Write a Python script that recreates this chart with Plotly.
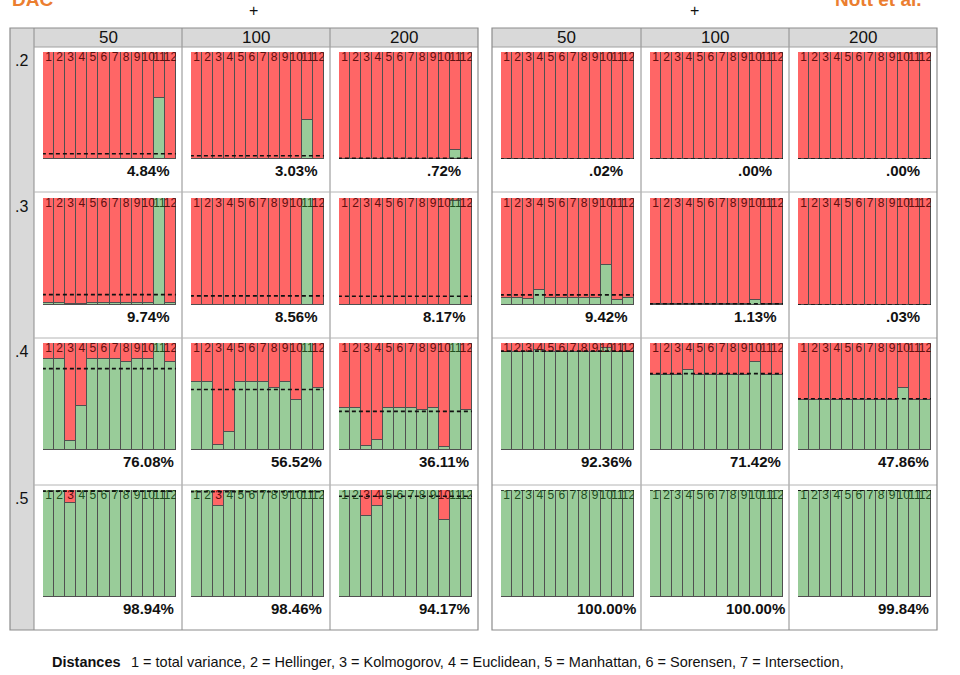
import plotly.graph_objects as go

# ---------------- data ----------------
distances = [1, 2, 3, 4, 5, 6, 7, 8, 9, 10, 11, 12]
distance_labels = ["1", "2", "3", "4", "5", "6", "7", "8", "9", "10", "11", "12"]
row_labels = [".2", ".3", ".4", ".5"]
col_labels = ["50", "100", "200"]

# DAC: % accepted (green) per distance, row = threshold, col = sample size
dac_r2_n50 = [0, 0, 0, 0, 0, 0, 0, 0, 0, 0, 57, 0]
dac_r2_n100 = [0, 0, 0, 0, 0, 0, 0, 0, 0, 0, 36, 0]
dac_r2_n200 = [0, 0, 0, 0, 0, 0, 0, 0, 0, 0, 8.5, 0]
dac_r3_n50 = [2, 2, 0.5, 0.5, 1.5, 1.5, 1.5, 1.5, 2, 2, 100, 1.5]
dac_r3_n100 = [0.3, 0.3, 0.3, 0.3, 0.3, 0.3, 0.3, 0.3, 0.3, 0.3, 100, 0.3]
dac_r3_n200 = [0.05, 0.05, 0.05, 0.05, 0.05, 0.05, 0.05, 0.05, 0.05, 0.05, 97.5, 0.05]
dac_r4_n50 = [85, 85, 8, 41, 85, 85, 85, 82, 85, 85, 100, 82]
dac_r4_n100 = [64, 64, 5, 17, 64, 64, 64, 58, 64, 47, 100, 58]
dac_r4_n200 = [39, 39, 4, 9, 39, 39, 39, 37, 39, 3, 100, 37]
dac_r5_n50 = [100, 100, 88, 100, 100, 100, 100, 100, 100, 100, 100, 100]
dac_r5_n100 = [100, 100, 85, 99, 100, 100, 100, 100, 100, 100, 100, 100]
dac_r5_n200 = [100, 100, 76, 85, 100, 100, 100, 100, 100, 72, 100, 100]

# Nott et al.
nott_r2_n50 = [0.02, 0.02, 0.02, 0.02, 0.02, 0.02, 0.02, 0.02, 0.02, 0.02, 0.02, 0.02]
nott_r2_n100 = [0, 0, 0, 0, 0, 0, 0, 0, 0, 0, 0, 0]
nott_r2_n200 = [0, 0, 0, 0, 0, 0, 0, 0, 0, 0, 0, 0]
nott_r3_n50 = [6.2, 6.2, 5.5, 14, 6.2, 6.2, 6.2, 6.2, 6.2, 37, 4.5, 7]
nott_r3_n100 = [0.8, 0.8, 0.8, 0.8, 0.8, 0.8, 0.8, 0.8, 0.8, 4.7, 0.8, 0.8]
nott_r3_n200 = [0.03, 0.03, 0.03, 0.03, 0.03, 0.03, 0.03, 0.03, 0.03, 0.03, 0.03, 0.03]
nott_r4_n50 = [92, 92, 92, 93, 92, 92, 92, 92, 92, 95, 92, 92]
nott_r4_n100 = [70, 70, 70, 75, 70, 70, 70, 70, 70, 82, 70, 70]
nott_r4_n200 = [47, 47, 47, 47, 47, 47, 47, 47, 47, 58, 47, 47]
nott_r5_n50 = [100, 100, 100, 100, 100, 100, 100, 100, 100, 100, 100, 100]
nott_r5_n100 = [100, 100, 100, 100, 100, 100, 100, 100, 100, 100, 100, 100]
nott_r5_n200 = [99.84, 99.84, 99.84, 99.84, 99.84, 99.84, 99.84, 99.84, 99.84, 99.84, 99.84, 99.84]

dac_pct = [[4.84, 3.03, 0.72], [9.74, 8.56, 8.17], [76.08, 56.52, 36.11], [98.94, 98.46, 94.17]]
nott_pct = [[0.02, 0.00, 0.00], [9.42, 1.13, 0.03], [92.36, 71.42, 47.86], [100.00, 100.00, 99.84]]

dac_green = [[dac_r2_n50, dac_r2_n100, dac_r2_n200],
             [dac_r3_n50, dac_r3_n100, dac_r3_n200],
             [dac_r4_n50, dac_r4_n100, dac_r4_n200],
             [dac_r5_n50, dac_r5_n100, dac_r5_n200]]
nott_green = [[nott_r2_n50, nott_r2_n100, nott_r2_n200],
              [nott_r3_n50, nott_r3_n100, nott_r3_n200],
              [nott_r4_n50, nott_r4_n100, nott_r4_n200],
              [nott_r5_n50, nott_r5_n100, nott_r5_n200]]

legend_text = ("1 = total variance, 2 = Hellinger, 3 = Kolmogorov, 4 = Euclidean, "
               "5 = Manhattan, 6 = Sorensen, 7 = Intersection,")

# ---------------- layout geometry (pixels) ----------------
W, H = 960, 675
FONT = "Liberation Sans Narrow, Arial Narrow, Liberation Sans, Arial, sans-serif"
RED = "#FF6666"
GREEN = "#99CC99"
OUTLINE = "#505050"
FRAME = "#8c8c8c"
HEADER = "#D9D9D9"
ORANGE = "#EB7E30"


def px(x):
    return x / W


def py(y):
    return 1 - y / H


block_cols = [[34, 182, 330], [492, 641, 789]]
block_edges = [(10, 478), (492, 937)]
row_tops = [52, 198, 343, 490]
row_seps = [192, 338, 485]
BAR_H = 107
BAR_W = 133
TOP, HDR_BOT, BOT = 28, 47, 630

fig = go.Figure()
layout = {}
shapes = []
annotations = []

blocks = [(dac_green, dac_pct), (nott_green, nott_pct)]
k = 0
for bi, (green, pct) in enumerate(blocks):
    for r in range(4):
        for c in range(3):
            k += 1
            xa = "x" if k == 1 else f"x{k}"
            ya = "y" if k == 1 else f"y{k}"
            left = block_cols[bi][c] + 9
            top = row_tops[r]
            layout["xaxis" if k == 1 else f"xaxis{k}"] = dict(
                domain=[px(left), px(left + BAR_W)], range=[0.5, 12.5],
                visible=False, fixedrange=True, anchor=ya)
            layout["yaxis" if k == 1 else f"yaxis{k}"] = dict(
                domain=[py(top + BAR_H), py(top)], range=[0, 100],
                visible=False, fixedrange=True, anchor=xa)
            g = green[r][c]
            red = [100 - v for v in g]
            fig.add_trace(go.Bar(x=distances, y=g, xaxis=xa, yaxis=ya,
                                 marker=dict(color=GREEN, line=dict(color=OUTLINE, width=1)),
                                 width=1, showlegend=False, hoverinfo="skip"))
            fig.add_trace(go.Bar(x=distances, y=red, xaxis=xa, yaxis=ya,
                                 marker=dict(color=RED, line=dict(color=OUTLINE, width=1)),
                                 width=1, showlegend=False, hoverinfo="skip"))
            lab_col = ["#1f4d1f" if v >= 97 else "#5e1010" for v in g]
            fig.add_trace(go.Scatter(x=distances, y=[100] * 12, xaxis=xa, yaxis=ya,
                                     mode="text", text=distance_labels,
                                     textposition="bottom center",
                                     textfont=dict(family=FONT, size=12, color=lab_col),
                                     showlegend=False, hoverinfo="skip"))
            p = pct[r][c]
            shapes.append(dict(type="line", xref=xa, yref=ya, x0=0.4, x1=12.6, y0=p, y1=p,
                               line=dict(color="#111111", width=1.6, dash="4px,3px"),
                               layer="above"))
            s = f"{p:.2f}%"
            if s.startswith("0"):
                s = s[1:]
            annotations.append(dict(xref=xa, yref=ya, x=10, y=0, yanchor="top",
                                    xanchor="center", yshift=-1, showarrow=False,
                                    text=f"<b>{s}</b>",
                                    font=dict(family=FONT, size=15, color="#111111")))

# frames
for bi in range(2):
    x0, x1 = block_edges[bi]
    cols = block_cols[bi]
    shapes.append(dict(type="rect", xref="paper", yref="paper",
                       x0=px(cols[0]), x1=px(x1), y0=py(HDR_BOT), y1=py(TOP),
                       fillcolor=HEADER, line=dict(width=0), layer="below"))
    if bi == 0:
        shapes.append(dict(type="rect", xref="paper", yref="paper",
                           x0=px(x0), x1=px(cols[0]), y0=py(BOT), y1=py(TOP),
                           fillcolor=HEADER, line=dict(width=0), layer="below"))
        shapes.append(dict(type="line", xref="paper", yref="paper",
                           x0=px(cols[0]), x1=px(cols[0]), y0=py(BOT), y1=py(TOP),
                           line=dict(color=FRAME, width=1)))
    for cx in cols[1:]:
        shapes.append(dict(type="line", xref="paper", yref="paper",
                           x0=px(cx), x1=px(cx), y0=py(BOT), y1=py(TOP),
                           line=dict(color=FRAME, width=1)))
    shapes.append(dict(type="line", xref="paper", yref="paper",
                       x0=px(cols[0]), x1=px(x1), y0=py(HDR_BOT), y1=py(HDR_BOT),
                       line=dict(color="#a0a0a0", width=1)))
    for sy in row_seps:
        shapes.append(dict(type="line", xref="paper", yref="paper",
                           x0=px(cols[0]), x1=px(x1), y0=py(sy), y1=py(sy),
                           line=dict(color="#b4b4b4", width=1)))
    shapes.append(dict(type="rect", xref="paper", yref="paper",
                       x0=px(x0), x1=px(x1), y0=py(BOT), y1=py(TOP),
                       line=dict(color=FRAME, width=1.2), fillcolor="rgba(0,0,0,0)"))
    edges = cols + [x1]
    for c in range(3):
        annotations.append(dict(xref="paper", yref="paper",
                                x=px((edges[c] + edges[c + 1]) / 2), y=py(38),
                                xanchor="center", yanchor="middle", showarrow=False,
                                text=col_labels[c],
                                font=dict(family=FONT, size=17, color="#111111")))

# row labels
for r in range(4):
    annotations.append(dict(xref="paper", yref="paper", x=px(21), y=py(row_tops[r] + 8),
                            xanchor="center", yanchor="middle", showarrow=False,
                            text=row_labels[r],
                            font=dict(family=FONT, size=16, color="#111111")))

# titles (partly above the top edge, as in the original)
annotations.append(dict(xref="paper", yref="paper", x=px(10), y=py(12), xanchor="left",
                        yanchor="bottom", showarrow=False, text="<b>DAC</b>",
                        font=dict(family="Liberation Sans, Arial", size=19, color=ORANGE)))
annotations.append(dict(xref="paper", yref="paper", x=px(924), y=py(12), xanchor="right",
                        yanchor="bottom", showarrow=False, text="<b>Nott et al.</b>",
                        font=dict(family="Liberation Sans, Arial", size=19, color=ORANGE)))
for xplus in (253, 694):
    annotations.append(dict(xref="paper", yref="paper", x=px(xplus), y=py(11),
                            xanchor="center", yanchor="middle", showarrow=False, text="+",
                            font=dict(family=FONT, size=16, color="#111111")))

# bottom legend text
annotations.append(dict(xref="paper", yref="paper", x=px(50), y=py(662), xanchor="left",
                        yanchor="middle", showarrow=False, text="<b>Distances</b>",
                        font=dict(family=FONT, size=14.5, color="#111111")))
annotations.append(dict(xref="paper", yref="paper", x=px(129), y=py(662), xanchor="left",
                        yanchor="middle", showarrow=False, text=legend_text,
                        font=dict(family=FONT, size=14.5, color="#111111")))

fig.update_layout(**layout)
fig.update_layout(width=W, height=H, margin=dict(l=0, r=0, t=0, b=0),
                  paper_bgcolor="white", plot_bgcolor="rgba(0,0,0,0)",
                  barmode="stack", bargap=0, showlegend=False,
                  shapes=shapes, annotations=annotations)
fig.write_html("out.html", config={"displayModeBar": False},
               post_script="document.body.style.margin='0';")
